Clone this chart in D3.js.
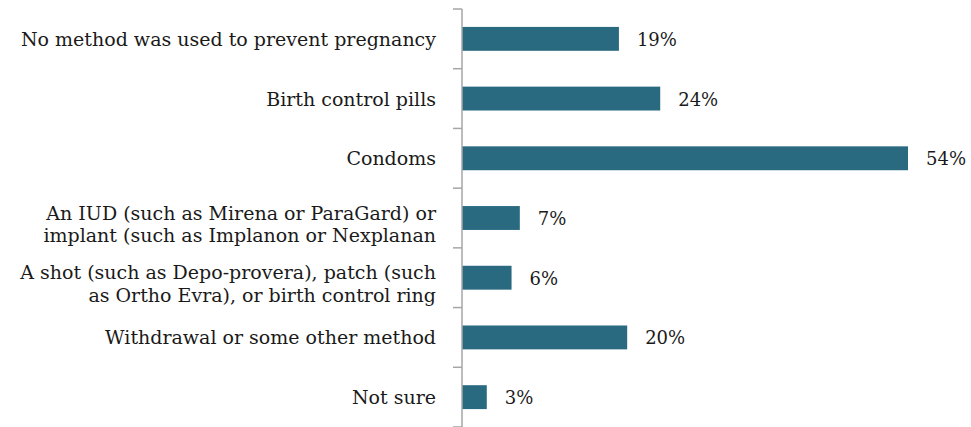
<!DOCTYPE html>
<html>
<head>
<meta charset="utf-8">
<script src="https://cdn.jsdelivr.net/npm/d3@7"></script>
<style>
  html, body { margin: 0; padding: 0; background: #fff; }
  svg { display: block; }
</style>
</head>
<body>
<svg id="chart" width="971" height="427"></svg>
<script>
// Contraceptive method used, share of respondents
const categories = [
  ["No method was used to prevent pregnancy"],
  ["Birth control pills"],
  ["Condoms"],
  ["An IUD (such as Mirena or ParaGard) or", "implant (such as Implanon or Nexplanan"],
  ["A shot (such as Depo-provera), patch (such", "as Ortho Evra), or birth control ring"],
  ["Withdrawal or some other method"],
  ["Not sure"]
];
const values = [19, 24, 54, 7, 6, 20, 3];
const valueLabels = ["19%", "24%", "54%", "7%", "6%", "20%", "3%"];

const chartW = 971, chartH = 427;
const axisX = 462, plotTop = 9, plotBottom = 427;
const fontFamily = "'DejaVu Serif', 'Liberation Serif', serif";

const svg = d3.select("#chart");

const y = d3.scaleBand()
  .domain(d3.range(categories.length))
  .range([plotTop, plotBottom])
  .paddingInner(0.6)
  .paddingOuter(0.3);

const x = d3.scaleLinear().domain([0, 54]).range([axisX, 908]);

// bars
svg.append("g").selectAll("rect")
  .data(values)
  .join("rect")
  .attr("x", x(0))
  .attr("y", (d, i) => y(i))
  .attr("width", d => x(d) - x(0))
  .attr("height", y.bandwidth())
  .attr("fill", "#2A6A80");

// category axis with ticks at band boundaries
const step = (plotBottom - plotTop) / categories.length;
const axisG = svg.append("g").attr("stroke", "#A6A6A6").attr("stroke-width", 1.5);
axisG.append("line")
  .attr("x1", axisX).attr("x2", axisX)
  .attr("y1", plotTop).attr("y2", plotBottom);
axisG.selectAll("line.tick")
  .data(d3.range(categories.length + 1))
  .join("line")
  .attr("class", "tick")
  .attr("x1", axisX - 9).attr("x2", axisX)
  .attr("y1", i => plotTop + i * step)
  .attr("y2", i => plotTop + i * step);

// category labels (two-line labels sit slightly below the band centre)
const lineH = 22.5;
const labels = svg.append("g")
  .attr("font-family", fontFamily)
  .attr("font-size", 19)
  .attr("fill", "#1a1a1a")
  .attr("text-anchor", "end");
labels.selectAll("text")
  .data(categories)
  .join("text")
  .attr("x", 436)
  .attr("y", (d, i) => y(i) + y.bandwidth() / 2)
  .each(function(lines) {
    const t = d3.select(this);
    const first = lines.length > 1 ? 1.5 : 7;
    lines.forEach((l, k) => {
      t.append("tspan")
        .attr("x", 436)
        .attr("dy", k === 0 ? first : lineH)
        .text(l);
    });
  });

// value labels
svg.append("g")
  .attr("font-family", fontFamily)
  .attr("font-size", 18)
  .attr("fill", "#1a1a1a")
  .selectAll("text")
  .data(values)
  .join("text")
  .attr("x", d => x(d) + 18)
  .attr("y", (d, i) => y(i) + y.bandwidth() / 2 + 7)
  .text((d, i) => valueLabels[i]);
</script>
</body>
</html>
